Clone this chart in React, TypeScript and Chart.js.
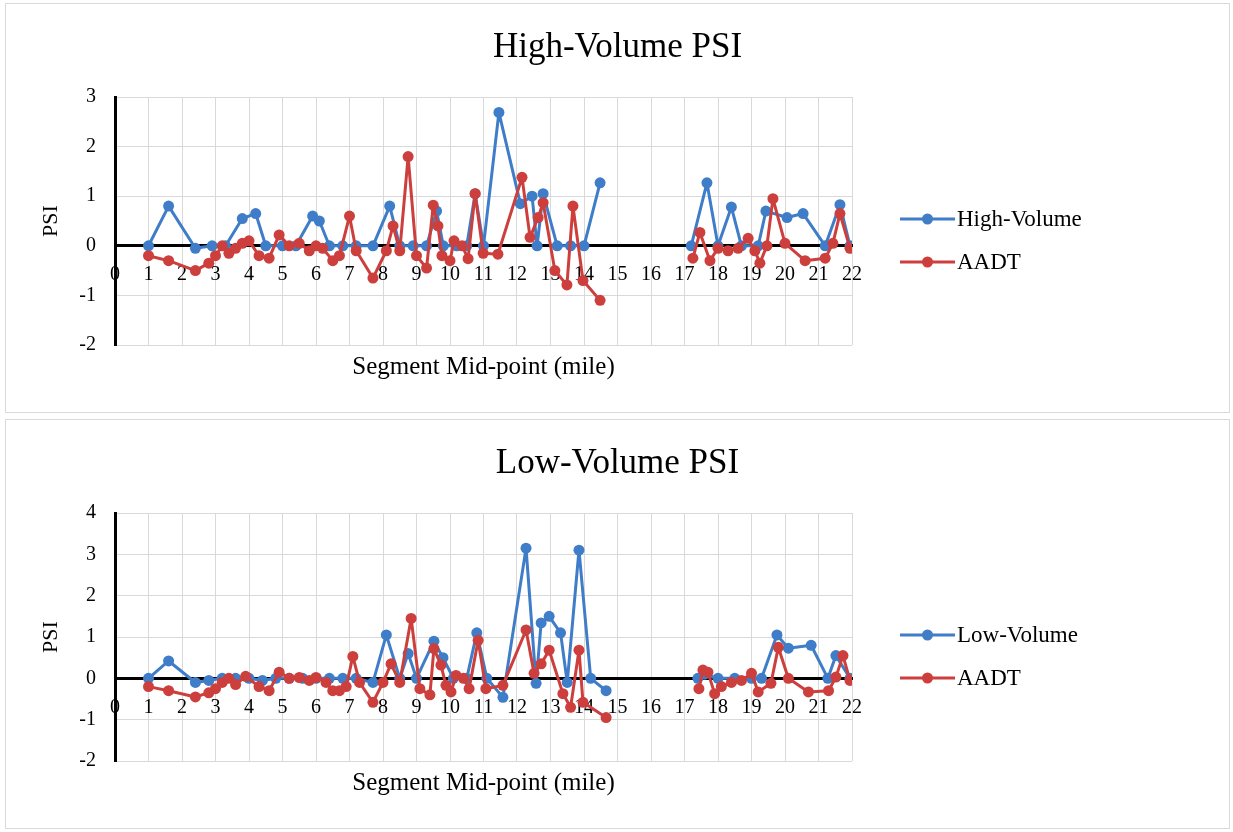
import React, { useEffect, useRef } from 'react';
import { Chart, registerables } from 'chart.js';

Chart.register(...registerables);

// ---------- Data ----------
// High-Volume panel
const hvMiles = [1.0, 1.6, 2.4, 2.9, 3.3, 3.8, 4.2, 4.5, 5.0, 5.4, 5.9, 6.1, 6.4, 6.8, 7.2, 7.7, 8.2, 8.5, 8.9, 9.3, 9.6, 9.8, 10.2, 10.5, 10.75, 11.0, 11.46, 12.1, 12.45, 12.6, 12.78, 13.2, 13.6, 14.0, 14.48, 15.8, 17.2, 17.67, 18.0, 18.4, 18.7, 19.2, 19.43, 20.06, 20.54, 21.2, 21.64, 21.94];
const hvPSI = [0, 0.8, -0.05, 0, 0, 0.55, 0.65, 0, 0, 0, 0.6, 0.5, 0, 0, 0, 0, 0.8, 0, 0, 0, 0.7, 0, 0, 0, 1.05, 0, 2.69, 0.85, 1.0, 0, 1.05, 0, 0, 0, 1.27, null, 0, 1.27, 0, 0.78, 0, 0, 0.7, 0.57, 0.65, 0, 0.83, 0];

const hvAadtMiles = [1.0, 1.6, 2.4, 2.8, 3.0, 3.2, 3.4, 3.6, 3.8, 4.0, 4.3, 4.6, 4.9, 5.2, 5.5, 5.8, 6.0, 6.2, 6.5, 6.7, 7.0, 7.2, 7.7, 8.1, 8.3, 8.5, 8.75, 9.0, 9.3, 9.5, 9.64, 9.76, 10.0, 10.12, 10.36, 10.54, 10.75, 10.99, 11.43, 12.15, 12.39, 12.63, 12.78, 13.13, 13.49, 13.67, 13.97, 14.48, 15.8, 17.25, 17.46, 17.76, 18.0, 18.3, 18.6, 18.9, 19.1, 19.25, 19.46, 19.64, 20.0, 20.6, 21.2, 21.43, 21.64, 21.94];
const hvAadtPSI = [-0.2, -0.3, -0.5, -0.35, -0.2, 0, -0.15, -0.05, 0.05, 0.1, -0.2, -0.25, 0.22, 0, 0.05, -0.1, 0, -0.05, -0.3, -0.2, 0.6, -0.1, -0.65, -0.1, 0.4, -0.1, 1.8, -0.2, -0.45, 0.82, 0.4, -0.2, -0.3, 0.1, 0, -0.26, 1.05, -0.15, -0.17, 1.38, 0.17, 0.57, 0.87, -0.5, -0.79, 0.8, -0.7, -1.1, null, -0.25, 0.27, -0.3, -0.05, -0.1, -0.05, 0.15, -0.1, -0.35, 0, 0.95, 0.05, -0.3, -0.25, 0.05, 0.65, -0.05];

// Low-Volume panel
const lvMiles = [1.0, 1.6, 2.4, 2.8, 3.2, 3.6, 4.0, 4.4, 4.8, 5.2, 5.6, 6.0, 6.4, 6.8, 7.2, 7.7, 8.1, 8.5, 8.75, 9.0, 9.52, 9.79, 10.1, 10.5, 10.8, 11.1, 11.58, 12.27, 12.57, 12.72, 12.96, 13.3, 13.5, 13.85, 14.2, 14.66, 15.8, 17.4, 17.6, 18.0, 18.5, 19.0, 19.3, 19.76, 20.1, 20.78, 21.28, 21.52, 21.94];
const lvPSI = [0, 0.42, -0.1, -0.05, 0, 0, 0, -0.05, 0, 0, 0, 0, 0, 0, 0, -0.1, 1.05, 0, 0.6, 0, 0.9, 0.5, 0, 0, 1.1, 0, -0.46, 3.15, -0.12, 1.34, 1.5, 1.1, -0.1, 3.1, 0, -0.3, null, 0, 0.1, 0, 0, 0, 0, 1.05, 0.73, 0.8, 0, 0.55, 0];

const lvAadtMiles = [1.0, 1.6, 2.4, 2.8, 3.0, 3.2, 3.4, 3.6, 3.9, 4.3, 4.6, 4.9, 5.2, 5.5, 5.8, 6.0, 6.3, 6.5, 6.7, 6.9, 7.1, 7.3, 7.7, 8.0, 8.24, 8.5, 8.84, 9.1, 9.4, 9.52, 9.73, 9.88, 10.03, 10.18, 10.4, 10.57, 10.84, 11.07, 11.58, 12.27, 12.51, 12.72, 12.96, 13.37, 13.6, 13.85, 13.97, 14.66, 15.8, 17.43, 17.55, 17.7, 17.9, 18.1, 18.4, 18.7, 19.0, 19.2, 19.58, 19.8, 20.1, 20.7, 21.3, 21.52, 21.73, 21.94];
const lvAadtPSI = [-0.2, -0.3, -0.45, -0.35, -0.25, -0.1, 0, -0.15, 0.05, -0.2, -0.3, 0.15, 0, 0.02, -0.05, 0.02, -0.1, -0.3, -0.3, -0.2, 0.53, -0.1, -0.58, -0.1, 0.35, -0.1, 1.45, -0.25, -0.4, 0.72, 0.32, -0.17, -0.33, 0.07, 0, -0.25, 0.92, -0.25, -0.17, 1.17, 0.12, 0.35, 0.68, -0.37, -0.7, 0.68, -0.58, -0.95, null, -0.25, 0.2, 0.15, -0.37, -0.2, -0.1, -0.05, 0.12, -0.33, -0.12, 0.75, 0, -0.33, -0.3, 0.03, 0.55, -0.05];

const xTicksMax = 22;
const BLUE = '#3f7dc8';
const RED = '#cc3f3c';
const FONT = '"Liberation Serif", "Times New Roman", serif';

const zip = (xs: number[], ys: (number | null)[]) => xs.map((x, i) => ({ x, y: ys[i] }));

const lineLegend = {
  id: 'lineLegend',
  afterDraw(chart: any) {
    const { ctx, chartArea } = chart;
    const cy = (chartArea.top + chartArea.bottom) / 2 - 2;
    chart.data.datasets.forEach((ds: any, i: number) => {
      const y = cy + i * 43;
      const x0 = chartArea.right + 48;
      ctx.save();
      ctx.strokeStyle = ds.borderColor;
      ctx.lineWidth = 3;
      ctx.beginPath();
      ctx.moveTo(x0, y);
      ctx.lineTo(x0 + 55, y);
      ctx.stroke();
      ctx.fillStyle = ds.borderColor;
      ctx.beginPath();
      ctx.arc(x0 + 27.5, y, 5.5, 0, Math.PI * 2);
      ctx.fill();
      ctx.fillStyle = '#000';
      ctx.font = `23px ${FONT}`;
      ctx.textBaseline = 'middle';
      ctx.textAlign = 'left';
      ctx.fillText(ds.label, x0 + 57, y + 1);
      ctx.restore();
    });
  },
};

type PanelProps = {
  title: string;
  seriesLabel: string;
  xs: number[];
  ys: (number | null)[];
  ax: number[];
  ay: (number | null)[];
  yMin: number;
  yMax: number;
  top: number;
};

function Panel({ title, seriesLabel, xs, ys, ax, ay, yMin, yMax, top }: PanelProps) {
  const ref = useRef<HTMLCanvasElement>(null);
  useEffect(() => {
    if (!ref.current) return;
    const lineStyle = {
      borderWidth: 3,
      pointRadius: 5.5,
      pointBorderWidth: 0,
      spanGaps: false,
      borderJoinStyle: 'round' as const,
      borderCapStyle: 'round' as const,
    };
    const chart = new Chart(ref.current, {
      type: 'line',
      data: {
        datasets: [
          {
            label: seriesLabel,
            data: zip(xs, ys) as any,
            borderColor: BLUE,
            backgroundColor: BLUE,
            order: 2,
            ...lineStyle,
          },
          {
            label: 'AADT',
            data: zip(ax, ay) as any,
            borderColor: RED,
            backgroundColor: RED,
            order: 1,
            ...lineStyle,
          },
        ],
      },
      options: {
        responsive: false,
        animation: false,
        layout: { padding: 0 },
        plugins: {
          legend: { display: false },
          tooltip: { enabled: false },
          title: {
            display: true,
            text: title,
            color: '#000',
            font: { family: FONT, size: 35, weight: 'normal' },
            padding: { top: 23, bottom: 28 },
          },
          subtitle: {
            display: true,
            text: 'Segment Mid-point (mile)',
            position: 'bottom',
            fullSize: false,
            color: '#000',
            font: { family: FONT, size: 25, weight: 'normal' },
            padding: { top: 7, bottom: 30 },
          },
        },
        scales: {
          x: {
            type: 'linear',
            position: { y: 0 } as any,
            min: 0,
            max: xTicksMax,
            ticks: {
              stepSize: 1,
              color: '#000',
              font: { family: FONT, size: 20 },
              padding: 17,
              maxRotation: 0,
              autoSkip: false,
            },
            grid: { color: '#d9d9d9', lineWidth: 1, drawTicks: false },
            border: { color: '#000', width: 3 },
          },
          y: {
            min: yMin,
            max: yMax,
            ticks: {
              stepSize: 1,
              color: '#000',
              font: { family: FONT, size: 20 },
              padding: 19,
            },
            grid: { color: '#d9d9d9', lineWidth: 1, drawTicks: false },
            border: { color: '#000', width: 3 },
            title: {
              display: true,
              text: 'PSI',
              color: '#000',
              font: { family: FONT, size: 22 },
              padding: { top: 32, bottom: 4 },
            },
            afterFit: (scale: any) => {
              scale.width = 109;
            },
          },
          legendSpace: {
            type: 'linear',
            position: 'right',
            min: yMin,
            max: yMax,
            ticks: { display: false },
            grid: { display: false, drawTicks: false },
            border: { display: false },
            afterFit: (scale: any) => {
              scale.width = 377;
            },
          },
        },
      },
      plugins: [lineLegend],
    });
    return () => chart.destroy();
  }, []);

  return (
    <div
      style={{
        position: 'absolute',
        left: 5,
        top,
        width: 1225,
        height: 410,
        boxSizing: 'border-box',
        border: '1px solid #d9d9d9',
        background: '#fff',
      }}
    >
      <canvas ref={ref} width={1223} height={408} style={{ display: 'block' }} />
    </div>
  );
}

export default function App() {
  return (
    <div style={{ position: 'absolute', left: 0, top: 0, width: 1233, height: 832, background: '#fff' }}>
      <Panel
        title="High-Volume PSI"
        seriesLabel="High-Volume"
        xs={hvMiles}
        ys={hvPSI}
        ax={hvAadtMiles}
        ay={hvAadtPSI}
        yMin={-2}
        yMax={3}
        top={3}
      />
      <Panel
        title="Low-Volume PSI"
        seriesLabel="Low-Volume"
        xs={lvMiles}
        ys={lvPSI}
        ax={lvAadtMiles}
        ay={lvAadtPSI}
        yMin={-2}
        yMax={4}
        top={419}
      />
    </div>
  );
}
